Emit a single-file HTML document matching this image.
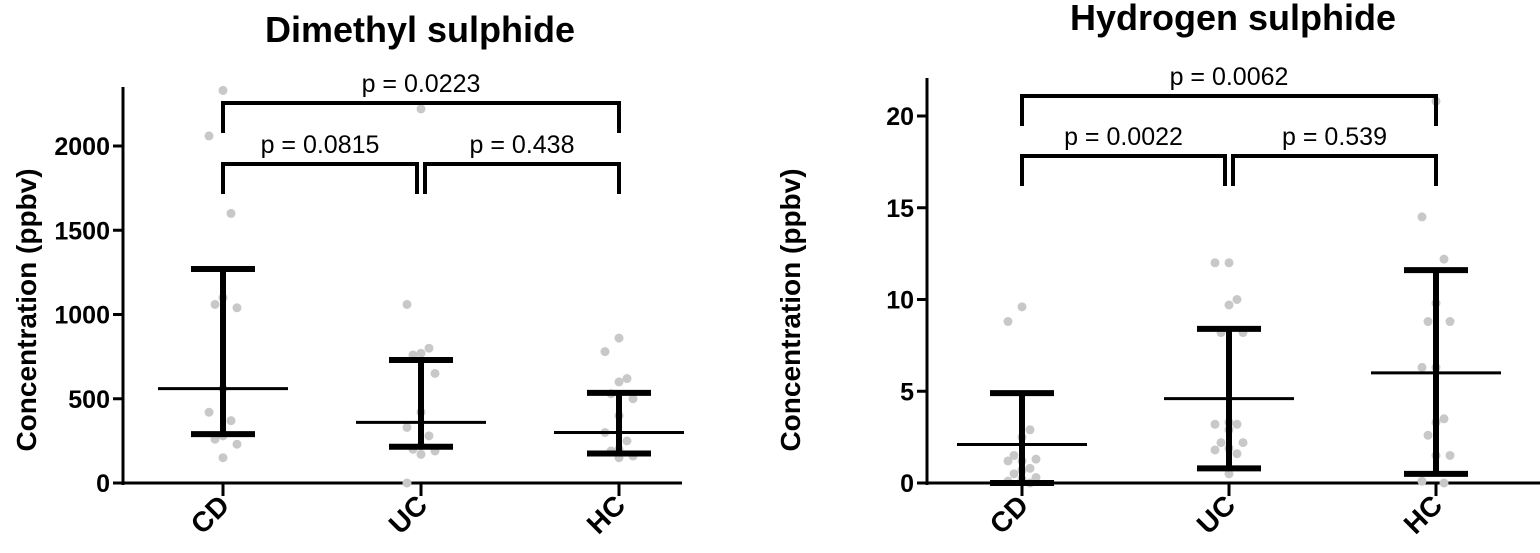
<!DOCTYPE html>
<html><head><meta charset="utf-8"><style>
html,body{margin:0;padding:0;background:#fff;}
svg{display:block;font-family:"Liberation Sans",Arial,sans-serif;}
</style></head><body>
<svg id="chart" width="1540" height="553" viewBox="0 0 1540 553">
<text x="420" y="42" text-anchor="middle" font-size="36" font-weight="bold">Dimethyl sulphide</text>
<text x="1233" y="30" text-anchor="middle" font-size="36" font-weight="bold">Hydrogen sulphide</text>
<text transform="translate(36,310) rotate(-90)" text-anchor="middle" font-size="28" font-weight="bold">Concentration (ppbv)</text>
<text transform="translate(800,310) rotate(-90)" text-anchor="middle" font-size="28" font-weight="bold">Concentration (ppbv)</text>
<g id="left"></g>
<g id="right"></g>
</svg>
<script>
const categories = ["CD","UC","HC"];
// Dimethyl sulphide (ppbv)
const dmsTicks = [0,500,1000,1500,2000];
const dmsMean = [560,360,300];
const dmsLow = [290,215,175];
const dmsHigh = [1270,730,535];
const dmsCD = [2330,2060,1600,1100,1060,1040,560,420,370,280,260,230,150];
const dmsUC = [2220,1060,800,770,760,650,420,330,280,220,200,190,170,0];
const dmsHC = [860,780,620,600,530,500,400,300,250,200,190,160,150];
const dmsP = ["p = 0.0815","p = 0.438","p = 0.0223"];
// Hydrogen sulphide (ppbv)
const hsTicks = [0,5,10,15,20];
const hsMean = [2.1,4.6,6.0];
const hsLow = [0.0,0.8,0.5];
const hsHigh = [4.9,8.4,11.6];
const hsCD = [9.6,8.8,2.9,2.5,1.5,1.3,1.2,1.2,0.8,0.7,0.5,0.3,0.2,0.1,0];
const hsUC = [12,12,10,9.7,8.2,8.2,3.3,3.2,3.2,2.9,2.2,2.2,1.9,1.8,1.6,0.5];
const hsHC = [20.8,14.5,12.2,9.8,8.8,8.8,6.3,6.3,3.5,3.3,2.6,1.5,1.5,0.1,0];
const hsP = ["p = 0.0022","p = 0.539","p = 0.0062"];

const NS="http://www.w3.org/2000/svg";
function mk(parent,tag,attrs){const e=document.createElementNS(NS,tag);for(const k in attrs)e.setAttribute(k,attrs[k]);parent.appendChild(e);return e;}

function draw(g, cfg){
  const y = v => cfg.y0 - (v - 0) / cfg.ymax * (cfg.y0 - cfg.ytop);
  const x = i => cfg.xs[0] + i * (cfg.xs[1]-cfg.xs[0]);
  let a = mk(g,'line',{x1:cfg.ax,y1:cfg.axTop,x2:cfg.ax,y2:cfg.y0+2,stroke:'#000','stroke-width':3});
  
  
  a = mk(g,'line',{x1:cfg.ax-10,y1:cfg.y0,x2:cfg.axEnd,y2:cfg.y0,stroke:'#000','stroke-width':3});
  
  
  cfg.ticks.forEach(t=>{
    const l = mk(g,'line',{x1:cfg.ax-10,y1:y(t),x2:cfg.ax,y2:y(t),stroke:'#000','stroke-width':3});
    
    
    const tx = mk(g,'text',{x:cfg.ax-13,y:y(t)+9,'text-anchor':'end','font-size':25,'font-weight':'bold'});
    tx.textContent = t;
    
    
  });
  categories.forEach((c,i)=>{
    const l = mk(g,'line',{x1:x(i),y1:cfg.y0,x2:x(i),y2:cfg.y0+13,stroke:'#000','stroke-width':3});
    
    
    const tx = mk(g,'text',{transform:`translate(${x(i)+8},${cfg.y0+24}) rotate(-45)`,'text-anchor':'end','font-size':28,'font-weight':'bold'});
    tx.textContent = c;
    
    
  });
  cfg.pts.forEach((arr,i)=>{
    arr.forEach((v,j)=>{
      const off = (j%3===0?0:(j%3===1?-1:1)) * (8 + (j%2)*6);
      const d = mk(g,'circle',{cx:x(i)+off,cy:y(v),r:4.5,fill:'#c8c8c8'});
      
      
    });
  });
  categories.forEach((c,i)=>{
    const e = mk(g,'path',{d:`M${x(i)},${y(cfg.high[i])}V${y(cfg.low[i])}M${x(i)-32},${y(cfg.high[i])}H${x(i)+32}M${x(i)-32},${y(cfg.low[i])}H${x(i)+32}`,stroke:'#000','stroke-width':6,fill:'none'});
    
    
    const m = mk(g,'line',{x1:x(i)-65,y1:y(cfg.mean[i]),x2:x(i)+65,y2:y(cfg.mean[i]),stroke:'#000','stroke-width':3});
    
    
  });
  const br = [[0,1,cfg.b2,-4],[1,2,cfg.b2,4],[0,2,cfg.b1,0]];
  br.forEach((b,k)=>{
    const xa = x(b[0]) + (b[3]>0?b[3]:0), xb = x(b[1]) + (b[3]<0?b[3]:0);
    const p = mk(g,'path',{d:`M${xa},${b[2]+30}V${b[2]}H${xb}V${b[2]+30}`,stroke:'#000','stroke-width':4,fill:'none'});
    
    
    const t = mk(g,'text',{x:(xa+xb)/2,y:b[2]-11,'text-anchor':'middle','font-size':25});
    t.textContent = cfg.p[k];
    
    
  });
}
draw(document.getElementById('left'),{y0:483,ytop:146,ymax:2000,ax:123,axTop:87,axEnd:682,xs:[223,421],ticks:dmsTicks,mean:dmsMean,low:dmsLow,high:dmsHigh,pts:[dmsCD,dmsUC,dmsHC],p:dmsP,b1:103,b2:164});
draw(document.getElementById('right'),{y0:483,ytop:116,ymax:20,ax:927,axTop:78,axEnd:1540,xs:[1022,1229],ticks:hsTicks,mean:hsMean,low:hsLow,high:hsHigh,pts:[hsCD,hsUC,hsHC],p:hsP,b1:96,b2:156});
</script>
</body></html>
